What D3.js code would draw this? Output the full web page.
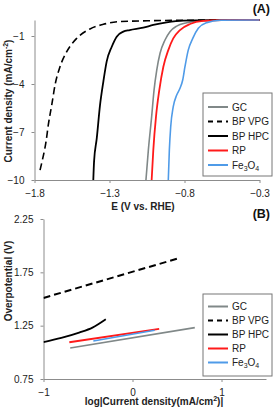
<!DOCTYPE html>
<html><head><meta charset="utf-8">
<script src="https://cdn.jsdelivr.net/npm/d3@7"></script>
<style>
body{margin:0;background:#fff;}
svg{display:block;font-family:Arial,"Liberation Sans",sans-serif;}
</style></head>
<body><svg id="c" width="275" height="413"></svg>
<script>
// ---------- Data (A): current density vs E ----------
const seriesNames = ["GC","BP VPG","BP HPC","RP","Fe3O4"];
const seriesColors = ["#808888","#000000","#000000","#ff1a1a","#4f9be8"];
const seriesDash = [null,"7,4",null,null,null];

const aGC_E = [-1.057,-1.041,-1.019,-1.003,-0.985,-0.963,-0.93,-0.897,-0.852,-0.785,-0.697,-0.55,-0.3];
const aGC_J = [-10,-8.13,-6.04,-4.38,-3.13,-2.08,-1.25,-0.73,-0.38,-0.17,-0.04,-0.01,0];
const aVPG_E = [-1.763,-1.745,-1.723,-1.708,-1.685,-1.663,-1.63,-1.585,-1.519,-1.43,-1.341,-1.23,-1.0,-0.7,-0.3];
const aVPG_J = [-9.38,-8.65,-7.6,-6.56,-5.31,-4.06,-2.92,-1.98,-1.15,-0.56,-0.27,-0.1,-0.04,-0.01,0];
const aHPC_E = [-1.408,-1.403,-1.385,-1.363,-1.341,-1.319,-1.285,-1.252,-1.208,-1.165,-1.075,-1.008,-0.919,-0.808,-0.6,-0.3];
const aHPC_J = [-10,-8.85,-7.4,-5.31,-3.85,-2.6,-1.67,-1.04,-0.73,-0.63,-0.48,-0.31,-0.15,-0.04,-0.01,0];
const aRP_E = [-1.019,-1.008,-0.99,-0.968,-0.941,-0.908,-0.875,-0.83,-0.763,-0.675,-0.55,-0.3];
const aRP_J = [-10,-8.13,-6.04,-4.38,-2.92,-1.88,-1.15,-0.63,-0.25,-0.06,-0.01,0];
const aFe_E = [-0.908,-0.901,-0.892,-0.875,-0.852,-0.83,-0.812,-0.797,-0.775,-0.745,-0.708,-0.652,-0.563,-0.3];
const aFe_J = [-10,-8.13,-6.67,-5.42,-4.69,-4.27,-3.75,-2.92,-1.88,-1.15,-0.52,-0.17,-0.02,0];

// ---------- Data (B): overpotential vs log|j| ----------
const bGC_X = [-0.7,0.7];           const bGC_Y = [1.04,1.232];
const bVPG_X = [-1,0.51];           const bVPG_Y = [1.51,1.88];
const bHPC_X = [-1,-0.8,-0.6,-0.45,-0.3]; const bHPC_Y = [1.095,1.135,1.185,1.232,1.31];
const bRP_X = [-0.71,0.3];          const bRP_Y = [1.095,1.22];
const bFe_X = [-0.44,0.25];         const bFe_Y = [1.107,1.207];

const aTicksX = [-1.8,-1.3,-0.8,-0.3];
const aTicksY = [-1,-4,-7,-10];
const bTicksX = [-1,0,1];
const bTicksY = [0.75,1.25,1.75,2.25];

const svg = d3.select("#c");
const axisColor = "#8c8c8c";
const textColor = "#222";

function zipXY(xs, ys){ return xs.map((x,i)=>[x,ys[i]]); }

function drawPanel(cfg){
  const g = svg.append("g");
  const x = d3.scaleLinear().domain(cfg.xDomain).range(cfg.xRange);
  const y = d3.scaleLinear().domain(cfg.yDomain).range(cfg.yRange);
  const xAxis = g.append("g").attr("transform",`translate(0,${cfg.yRange[0]})`)
    .call(d3.axisBottom(x).tickValues(cfg.xTicks).tickSize(3).tickSizeOuter(0).tickFormat(cfg.xFmt));
  const yAxis = g.append("g").attr("transform",`translate(${cfg.xRange[0]},0)`)
    .call(d3.axisLeft(y).tickValues(cfg.yTicks).tickSize(3).tickSizeOuter(0).tickFormat(cfg.yFmt));
  [xAxis,yAxis].forEach(a=>{
    a.selectAll("path,line").attr("stroke",axisColor);
    a.selectAll("text").attr("fill",textColor).attr("font-size","10px").attr("font-family","Arial,'Liberation Sans',sans-serif");
  });
  xAxis.selectAll("text").attr("dy","1.05em");
  yAxis.selectAll("text").attr("dx", cfg.yTextDx);
  const line = d3.line().x(d=>x(d[0])).y(d=>y(d[1])).curve(cfg.curve);
  const clipId = "clip"+cfg.id;
  g.append("clipPath").attr("id",clipId).append("rect")
    .attr("x",cfg.xRange[0]).attr("y",cfg.yRange[1]-2)
    .attr("width",cfg.xRange[1]-cfg.xRange[0]+2).attr("height",cfg.yRange[0]-cfg.yRange[1]+2);
  const lg = g.append("g").attr("clip-path",`url(#${clipId})`);
  cfg.series.forEach((s,i)=>{
    lg.append("path").datum(s).attr("fill","none")
      .attr("stroke",seriesColors[i]).attr("stroke-width",cfg.sw[i])
      .attr("stroke-dasharray",seriesDash[i]).attr("d",line);
  });
  // legend
  const L = cfg.legend;
  g.append("rect").attr("x",L.x).attr("y",L.y).attr("width",L.w).attr("height",L.h)
    .attr("fill","#fff").attr("stroke","#777").attr("stroke-width",1);
  seriesNames.forEach((n,i)=>{
    const yy = L.y + L.first + i*L.step;
    g.append("line").attr("x1",L.x+5).attr("x2",L.x+25).attr("y1",yy).attr("y2",yy)
      .attr("stroke",seriesColors[i]).attr("stroke-width",2).attr("stroke-dasharray",seriesDash[i]?"5,4":null);
    const t = g.append("text").attr("x",L.x+29).attr("y",yy).attr("dy","0.35em")
      .attr("font-size","10px").attr("fill",textColor);
    if(n==="Fe3O4"){
      t.append("tspan").text("Fe");
      t.append("tspan").text("3").attr("font-size","7px").attr("dy","2");
      t.append("tspan").text("O").attr("dy","-2");
      t.append("tspan").text("4").attr("font-size","7px").attr("dy","2");
    } else t.text(n);
  });
  return {x,y};
}

drawPanel({
  id:"A", xDomain:[-1.8,-0.3], xRange:[34.5,259.5], yDomain:[-10,0], yRange:[180,20],
  xTicks:aTicksX, yTicks:aTicksY, xFmt:d3.format(".1f"), yFmt:d3.format("d"), yTextDx:"-4",
  curve:d3.curveMonotoneX, sw:[1.6,1.6,1.8,1.8,1.6],
  series:[zipXY(aGC_E,aGC_J),zipXY(aVPG_E,aVPG_J),zipXY(aHPC_E,aHPC_J),zipXY(aRP_E,aRP_J),zipXY(aFe_E,aFe_J)],
  legend:{x:203,y:93,w:69,h:83,first:14,step:14.5}
});
drawPanel({
  id:"B", xDomain:[-1,1.5], xRange:[43.5,266], yDomain:[0.75,2.25], yRange:[379,219],
  xTicks:bTicksX, yTicks:bTicksY, xFmt:d3.format("d"), yFmt:d3.format(".2f"), yTextDx:"-4",
  curve:d3.curveMonotoneX, sw:[1.6,2,1.8,2,1.6],
  series:[zipXY(bGC_X,bGC_Y),zipXY(bVPG_X,bVPG_Y),zipXY(bHPC_X,bHPC_Y),zipXY(bRP_X,bRP_Y),zipXY(bFe_X,bFe_Y)],
  legend:{x:203,y:294,w:69,h:82,first:12.5,step:14}
});

// titles
svg.append("text").attr("x",270).attr("y",13).attr("text-anchor","end")
  .attr("font-size","12.5px").attr("font-weight","bold").attr("fill","#111").text("(A)");
svg.append("text").attr("x",270).attr("y",218).attr("text-anchor","end")
  .attr("font-size","12.5px").attr("font-weight","bold").attr("fill","#111").text("(B)");

svg.append("text").attr("x",143).attr("y",210).attr("text-anchor","middle")
  .attr("font-size","10px").attr("font-weight","bold").attr("fill",textColor).text("E (V vs. RHE)");
const bx = svg.append("text").attr("x",154).attr("y",405).attr("text-anchor","middle")
  .attr("font-size","10px").attr("font-weight","bold").attr("fill",textColor);
bx.append("tspan").text("log|Current density(mA/cm");
bx.append("tspan").text("2").attr("font-size","7px").attr("dy","-4");
bx.append("tspan").text(")|").attr("dy","4");

const ya = svg.append("text").attr("transform","translate(12,101) rotate(-90)").attr("text-anchor","middle")
  .attr("font-size","10px").attr("font-weight","bold").attr("fill",textColor);
ya.append("tspan").text("Current density (mA/cm");
ya.append("tspan").text("-2").attr("font-size","7px").attr("dy","-4");
ya.append("tspan").text(")").attr("dy","4");

svg.append("text").attr("transform","translate(12,281) rotate(-90)").attr("text-anchor","middle")
  .attr("font-size","10px").attr("font-weight","bold").attr("fill",textColor).text("Overpotential (V)");
</script>
</body></html>
